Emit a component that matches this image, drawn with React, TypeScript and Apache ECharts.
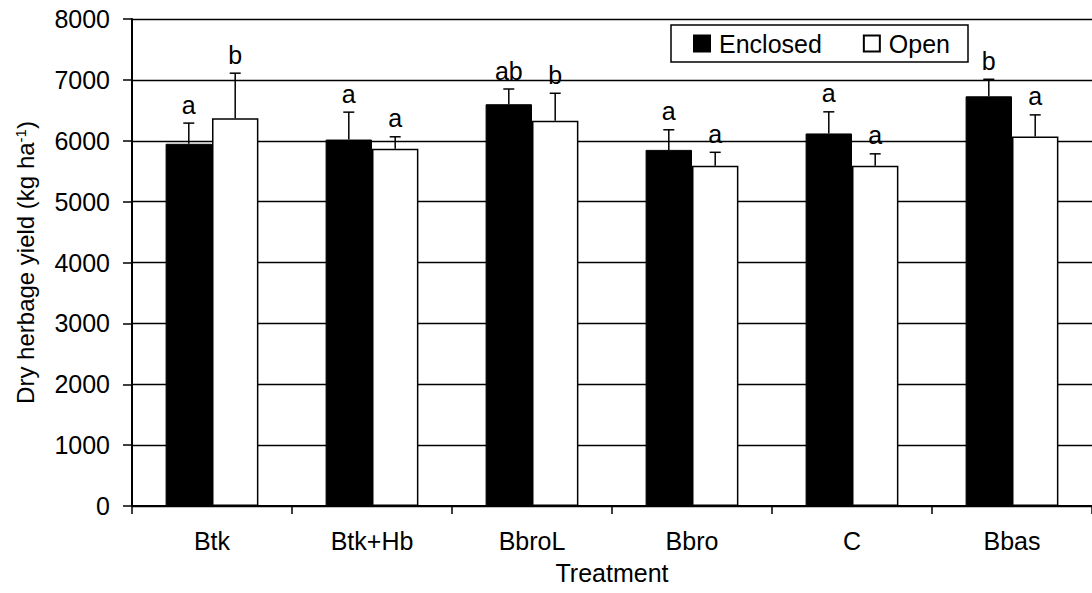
import { useEffect, useRef } from 'react';
import * as echarts from 'echarts';

// Treatments on the category axis
const categories = ['Btk', 'Btk+Hb', 'BbroL', 'Bbro', 'C', 'Bbas'];

// Enclosed plots: mean yield, standard error, significance letter
const enclosedYield = [5950, 6020, 6600, 5850, 6120, 6730];
const enclosedSE = [340, 450, 250, 330, 355, 280];
const enclosedLetters = ['a', 'a', 'ab', 'a', 'a', 'b'];

// Open plots: mean yield, standard error, significance letter
const openYield = [6370, 5870, 6330, 5590, 5590, 6070];
const openSE = [740, 195, 450, 220, 195, 355];
const openLetters = ['b', 'a', 'b', 'a', 'a', 'a'];

// Value axis ticks
const yMin = 0;
const yMax = 8000;
const yStep = 1000;

const FONT = '"Liberation Sans", Arial, Helvetica, sans-serif';
const FONT_SIZE = 25;
const CATEGORY_GAP = 0.42;

// Upward error bar with cap and a significance letter above it.
// side = -1 for the left bar of a pair, +1 for the right bar.
function errorSeries(
  values: number[],
  errors: number[],
  letters: string[],
  side: number
): echarts.CustomSeriesOption {
  return {
    type: 'custom',
    z: 5,
    encode: { x: 0, y: 1 },
    data: values.map((v, i) => [i, v, errors[i]]),
    renderItem: (params: any, api: any) => {
      const i = api.value(0);
      const v = api.value(1);
      const e = api.value(2);
      const band = api.size([1, 0])[0];
      const barW = (band * (1 - CATEGORY_GAP)) / 2;
      const top = api.coord([i, v]);
      const cap = api.coord([i, v + e]);
      const cx = top[0] + (side * barW) / 2;
      return {
        type: 'group',
        children: [
          {
            type: 'line',
            shape: { x1: cx, y1: top[1], x2: cx, y2: cap[1] },
            style: { stroke: '#000', lineWidth: 1.5 },
          },
          {
            type: 'line',
            shape: { x1: cx - 5.5, y1: cap[1], x2: cx + 5.5, y2: cap[1] },
            style: { stroke: '#000', lineWidth: 1.5 },
          },
          {
            type: 'text',
            style: {
              text: letters[params.dataIndex],
              x: cx,
              y: cap[1] - 6,
              align: 'center',
              verticalAlign: 'bottom',
              fontSize: FONT_SIZE,
              fontFamily: FONT,
              fill: '#000',
            },
          },
        ],
      };
    },
  } as any;
}

export default function App() {
  const ref = useRef<HTMLDivElement>(null);

  useEffect(() => {
    if (!ref.current) return;
    const chart = echarts.init(ref.current, undefined, { renderer: 'svg' });

    const option: echarts.EChartsOption = {
      animation: false,
      backgroundColor: '#fff',
      textStyle: { fontFamily: FONT, color: '#000' },
      grid: { left: 132, top: 19, width: 970, height: 487, containLabel: false },
      legend: {
        data: ['Enclosed', 'Open'],
        left: 671,
        top: 25,
        orient: 'horizontal',
        icon: 'rect',
        itemWidth: 16,
        itemHeight: 16,
        itemGap: 41,
        padding: [6, 18, 6, 22],
        borderColor: '#000',
        borderWidth: 1.5,
        borderRadius: 0,
        textStyle: {
          fontSize: FONT_SIZE,
          fontFamily: FONT,
          color: '#000',
          padding: [0, 0, 0, 4],
        },
      },
      xAxis: {
        type: 'category',
        data: categories,
        name: 'Treatment',
        nameLocation: 'middle',
        nameGap: 54,
        nameTextStyle: { fontSize: FONT_SIZE, fontFamily: FONT, color: '#000' },
        axisLine: { show: true, lineStyle: { color: '#000', width: 2 } },
        axisTick: { show: true, length: 8, lineStyle: { color: '#000', width: 1.5 } },
        axisLabel: { margin: 22, fontSize: FONT_SIZE, fontFamily: FONT, color: '#000' },
        splitLine: { show: false },
      },
      yAxis: {
        type: 'value',
        min: yMin,
        max: yMax,
        interval: yStep,
        name: 'Dry herbage yield (kg ha{sup|-1})',
        nameLocation: 'middle',
        nameGap: 95,
        nameTextStyle: {
          fontSize: 24,
          fontFamily: FONT,
          color: '#000',
          rich: {
            sup: { fontSize: 15, fontFamily: FONT, color: '#000', verticalAlign: 'top' },
          },
        },
        axisLine: { show: true, lineStyle: { color: '#000', width: 2 } },
        axisTick: { show: true, length: 9, lineStyle: { color: '#000', width: 1.5 } },
        axisLabel: {
          margin: 22,
          fontSize: FONT_SIZE,
          fontFamily: FONT,
          color: '#000',
          formatter: (v: number) => String(v),
        },
        splitLine: { show: true, lineStyle: { color: '#000', width: 1.3 } },
      },
      series: [
        {
          name: 'Enclosed',
          type: 'bar',
          data: enclosedYield,
          barGap: '0%',
          barCategoryGap: `${CATEGORY_GAP * 100}%`,
          itemStyle: { color: '#000', borderColor: '#000', borderWidth: 1 },
        },
        {
          name: 'Open',
          type: 'bar',
          data: openYield,
          barGap: '0%',
          barCategoryGap: `${CATEGORY_GAP * 100}%`,
          itemStyle: { color: '#fff', borderColor: '#000', borderWidth: 1.5 },
        },
        errorSeries(enclosedYield, enclosedSE, enclosedLetters, -1),
        errorSeries(openYield, openSE, openLetters, 1),
      ],
    };

    chart.setOption(option);
    return () => chart.dispose();
  }, []);

  return (
    <div
      ref={ref}
      style={{ position: 'fixed', left: 0, top: 0, width: 1092, height: 593, background: '#fff' }}
    />
  );
}
